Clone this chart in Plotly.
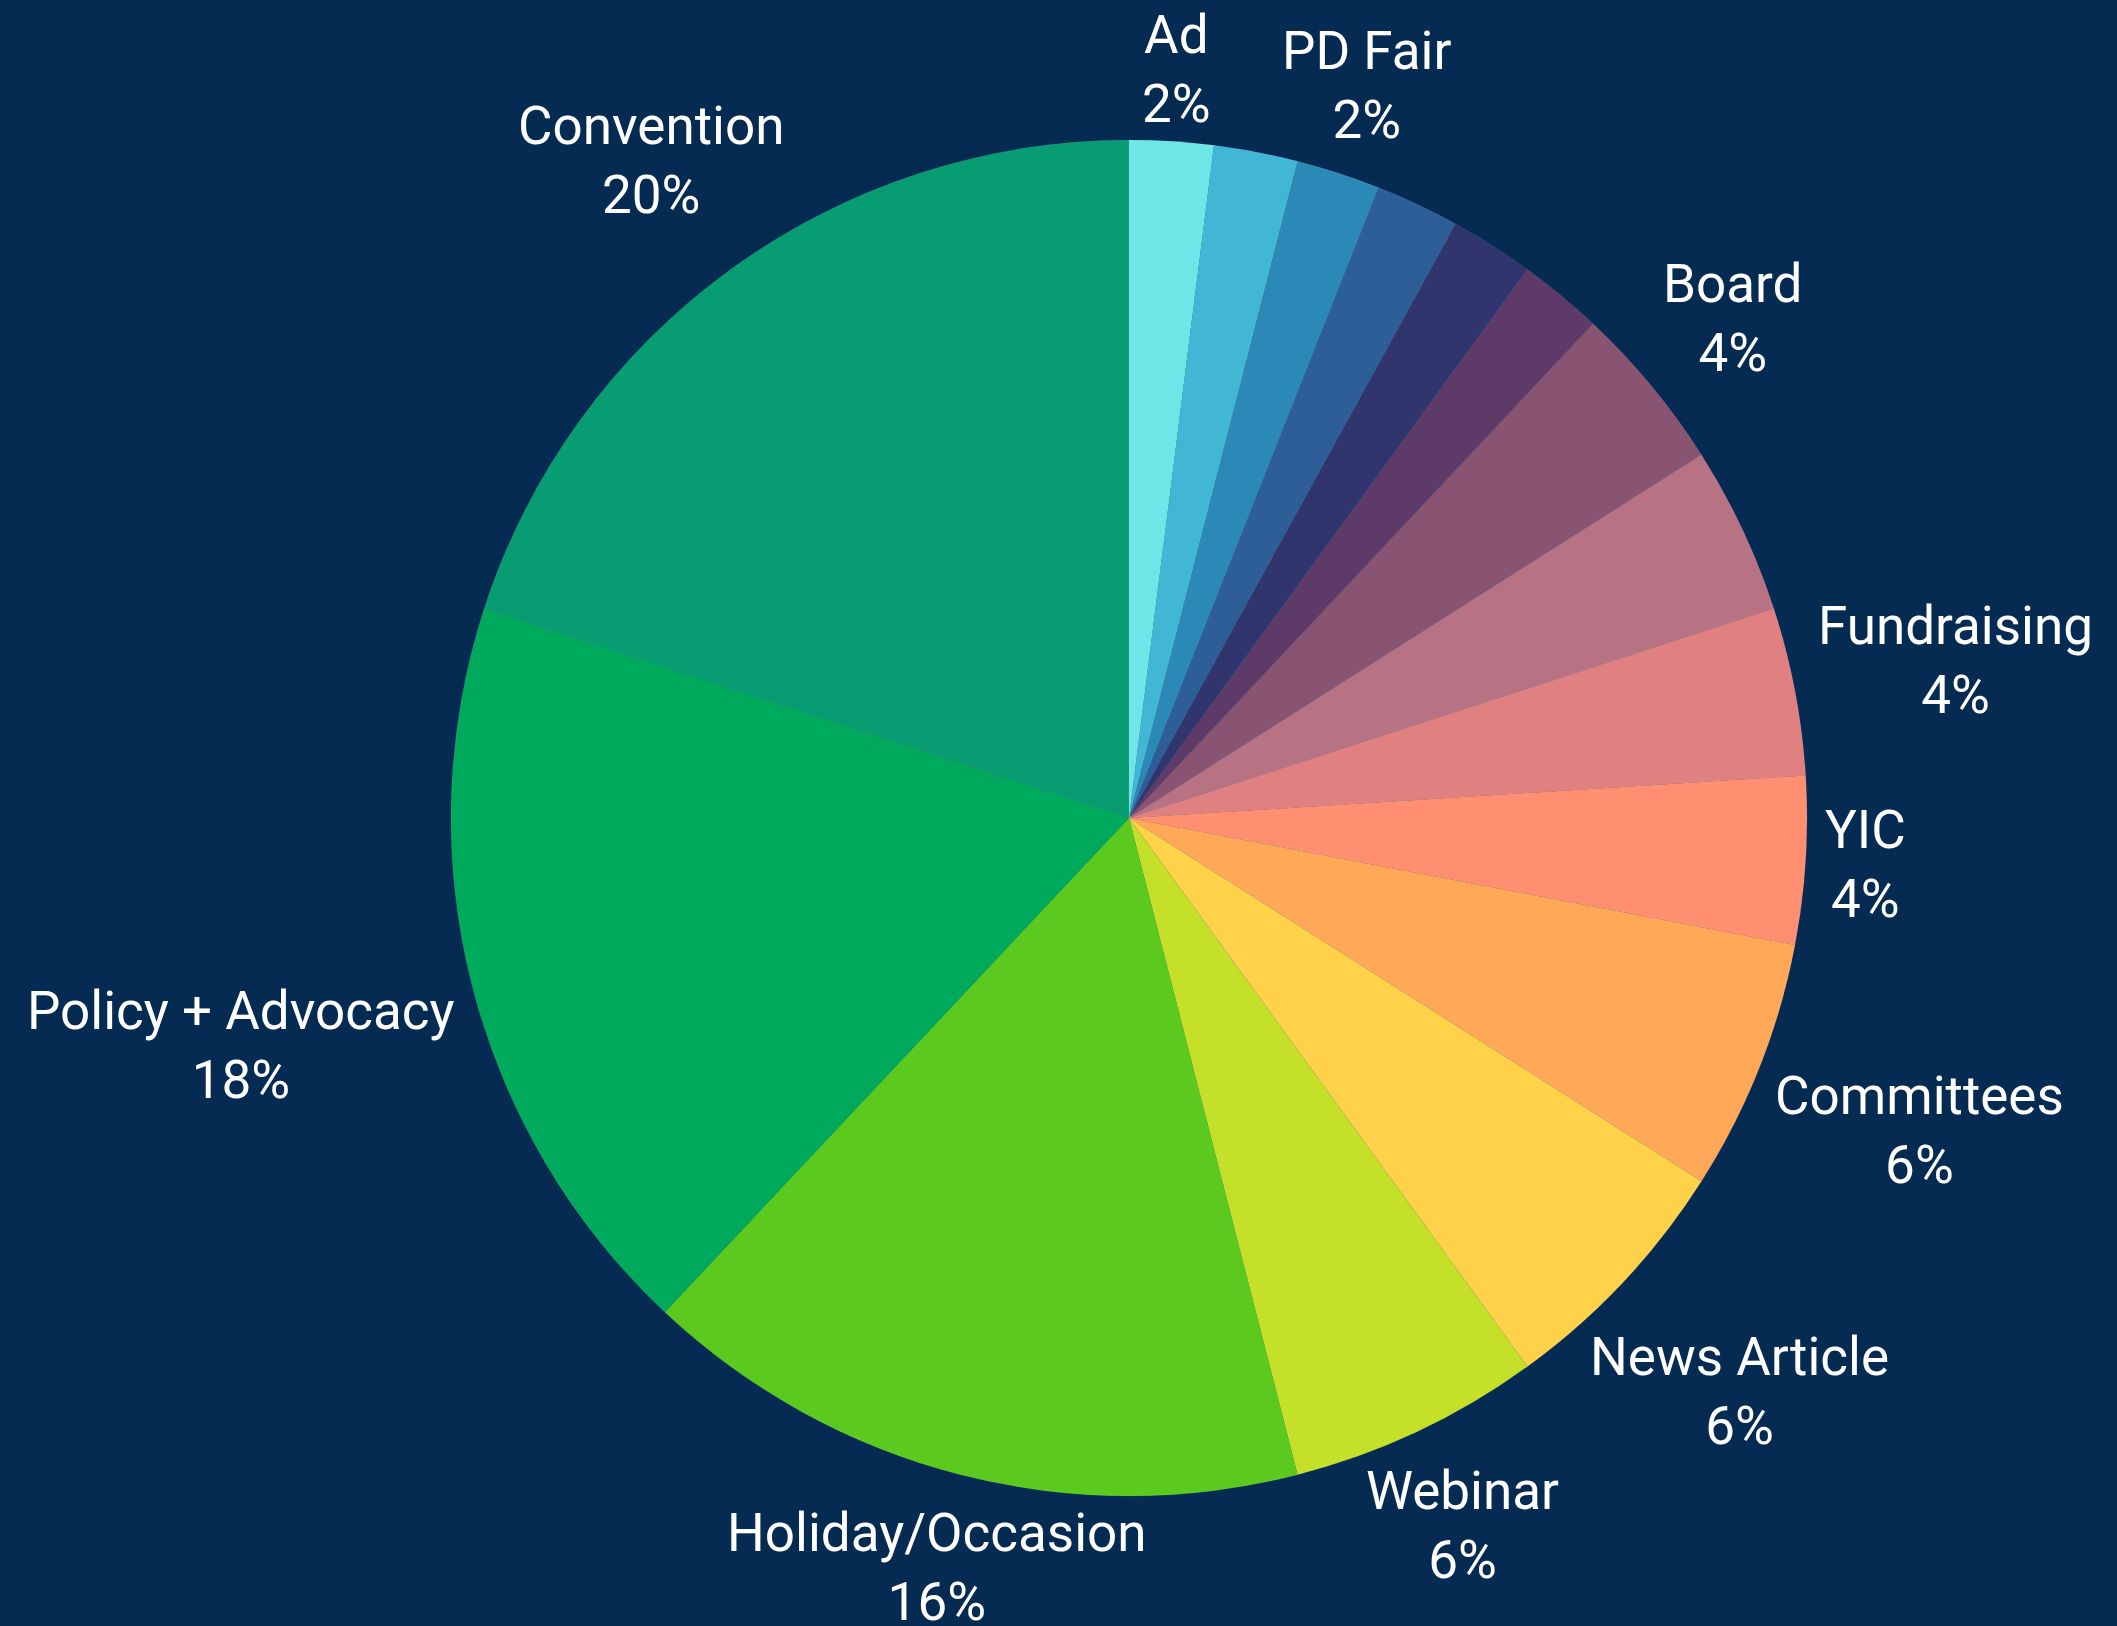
import math
import plotly.graph_objects as go

labels = ["Ad", "Other 1", "PD Fair", "Other 2", "Other 3", "Other 4", "Board", "Other 5",
          "Fundraising", "YIC", "Committees", "News Article", "Webinar",
          "Holiday/Occasion", "Policy + Advocacy", "Convention"]
values = [2, 2, 2, 2, 2, 2, 4, 4, 4, 4, 6, 6, 6, 16, 18, 20]
show_label = [True, False, True, False, False, False, True, False,
              True, True, True, True, True, True, True, True]
colors = ["#6EE6E8", "#41B6D5", "#2B89B8", "#2D5E98", "#30356D", "#5E3A69", "#885472", "#B77284",
          "#E08080", "#FF8F70", "#FFA858", "#FFD24A", "#C5E028", "#5BC91E", "#00AA5C", "#079C72"]

W, H = 2117, 1626
cx, cy, r = 1129, 818, 678
FONT = 53
GAP = 18
BG = "#062B53"

# approximate Roboto advance widths (em) used to size the label boxes
CW = {'A': .652, 'd': .562, 'P': .631, 'D': .654, ' ': .248, 'F': .553, 'a': .544, 'i': .243,
      'r': .338, 'B': .622, 'o': .570, 'u': .551, 'n': .552, 's': .516, 'g': .561, 'Y': .601,
      'I': .272, 'C': .652, 'm': .876, 't': .327, 'e': .530, 'N': .713, 'w': .751, 'c': .523,
      'l': .243, 'W': .887, 'b': .561, 'H': .713, 'y': .474, '/': .412, 'O': .688, 'v': .484,
      'p': .561, '+': .567, '%': .733}


def text_w(s):
    return sum(CW.get(ch, .562) for ch in s) * FONT


fig = go.Figure(go.Pie(
    labels=labels,
    values=values,
    sort=False,
    direction="clockwise",
    rotation=0,
    marker=dict(colors=colors, line=dict(color="rgba(255,255,255,0.12)", width=0.6)),
    textinfo="none",
    hoverinfo="label+percent",
    domain=dict(x=[(cx - r) / W, (cx + r) / W], y=[(H - cy - r) / H, (H - cy + r) / H]),
))

total = sum(values)
cum = 0
annotations = []
for lab, v, show in zip(labels, values, show_label):
    mid = (cum + v / 2) / total * 2 * math.pi
    cum += v
    if not show:
        continue
    pct = f"{round(100 * v / total)}%"
    a = max(text_w(lab), text_w(pct)) / 2
    b = FONT
    ux, uy = math.sin(mid), -math.cos(mid)
    lo, hi = 0.0, 2000.0
    for _ in range(60):
        t = (lo + hi) / 2
        d = math.hypot(max(0, abs(t * ux) - a), max(0, abs(t * uy) - b))
        if d < r + GAP:
            lo = t
        else:
            hi = t
    px, py = cx + t * ux, cy + t * uy
    annotations.append(dict(
        x=px / W, y=1 - py / H, xref="paper", yref="paper",
        xanchor="center", yanchor="middle", showarrow=False,
        text=f"{lab}<br>{pct}", align="center",
        font=dict(family="Roboto", size=FONT, color="#FFFFFF"),
    ))

fig.update_layout(
    width=W, height=H,
    paper_bgcolor=BG,
    plot_bgcolor=BG,
    margin=dict(l=0, r=0, t=0, b=0),
    showlegend=False,
    annotations=annotations,
    font=dict(family="Roboto", color="#FFFFFF"),
)

fig.write_html(
    "out.html",
    config={"displayModeBar": False},
    post_script="document.body.style.margin='0';document.body.style.padding='0';"
                "document.body.style.overflow='hidden';"
                "document.body.style.background='" + BG + "';",
)
